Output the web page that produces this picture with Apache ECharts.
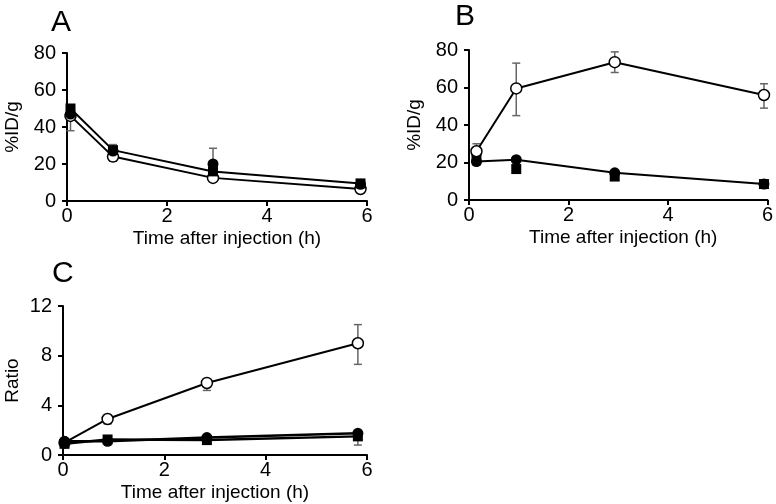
<!DOCTYPE html>
<html>
<head>
<meta charset="utf-8">
<script src="https://cdn.jsdelivr.net/npm/echarts@6/dist/echarts.min.js"></script>
<style>
  html, body { margin: 0; padding: 0; background: #fff; }
  #chart { width: 776px; height: 504px; }
</style>
</head>
<body>
<div id="chart"></div>
<script>
// Panel A: %ID/g over time
const timeA = [0.07, 0.92, 2.92, 5.87];
const openA = [46, 24, 12.5, 6.5];
const filledCircleA = [47, 27, 20, 9];
const filledSquareA = [50, 27.5, 16, 9.5];
const errA = [
  [0.07, 38, 52], [0.92, 21.5, 24.5], [0.92, 26, 30.5],
  [2.92, 20, 28.5], [5.87, 5, 8.5],
];

// Panel B: %ID/g over time
const timeB = [0.15, 0.95, 2.93, 5.93];
const openB = [26, 59.5, 73.5, 56];
const filledCircleB = [20.5, 21.5, 14.5, 8.5];
const filledSquareB = [22.5, 16.5, 12.5, 8.5];
const errB = [
  [0.15, 22, 30], [0.15, 18.5, 23], [0.95, 45, 73],
  [2.93, 68, 79], [2.93, 12, 15.5], [5.93, 49, 62],
];

// Panel C: ratio over time
const timeC = [0.03, 0.88, 2.84, 5.82];
const openC = [1.0, 2.9, 5.8, 9.0];
const filledCircleC = [1.1, 1.1, 1.4, 1.75];
const filledSquareC = [0.9, 1.25, 1.2, 1.5];
const errC = [
  [0.88, 2.5, 2.9], [2.84, 5.2, 6.1], [5.82, 7.3, 10.5],
  [0.88, 0.9, 1.3], [2.84, 1.0, 1.5], [5.82, 0.8, 1.8],
];

const FONT = "Liberation Sans, Arial, sans-serif";
const chart = echarts.init(document.getElementById("chart"));

function pairs(xs, ys) {
  return xs.map((x, i) => [x, ys[i]]);
}

function axisX(idx, shift) {
  return {
    type: "value", gridIndex: idx, min: 0, max: 6, interval: 2,
    name: "Time after injection (h)", nameLocation: "middle", nameGap: 28,
    nameMoveOverlap: false,
    nameTextStyle: {
      fontFamily: FONT, fontSize: 19, color: "#000",
      padding: [0, 0, 0, shift || 0],
    },
    axisLine: { lineStyle: { color: "#000", width: 2 } },
    axisTick: { length: 5, lineStyle: { color: "#000", width: 2 } },
    axisLabel: { fontFamily: FONT, fontSize: 20, color: "#000", margin: 5 },
    splitLine: { show: false },
  };
}

function axisY(idx, name, max, interval, nameGap) {
  return {
    type: "value", gridIndex: idx, min: 0, max, interval,
    name, nameLocation: "middle", nameGap, nameMoveOverlap: false,
    nameTextStyle: { fontFamily: FONT, fontSize: 19, color: "#000" },
    axisLine: { show: true, lineStyle: { color: "#000", width: 2 } },
    axisTick: { show: true, length: 5, lineStyle: { color: "#000", width: 2 } },
    axisLabel: { fontFamily: FONT, fontSize: 20, color: "#000", margin: 11 },
    splitLine: { show: false },
  };
}

function marks(idx, data, kind, withLine, z, lineWidth) {
  const open = kind === "open";
  return {
    type: "line", xAxisIndex: idx, yAxisIndex: idx, data,
    symbol: kind === "square" ? "rect" : "circle",
    symbolSize: kind === "square" ? 10 : 11,
    showSymbol: true,
    itemStyle: {
      color: open ? "#fff" : "#000",
      borderColor: "#000", borderWidth: open ? 1.5 : 0,
    },
    lineStyle: withLine ? { color: "#000", width: lineWidth || 2 } : { opacity: 0 },
    z,
    animation: false,
  };
}

function errBars(idx, data) {
  return {
    type: "custom", xAxisIndex: idx, yAxisIndex: idx, data, z: 1,
    renderItem(params, api) {
      const x = api.value(0);
      const lo = api.coord([x, api.value(1)]);
      const hi = api.coord([x, api.value(2)]);
      const w = 4;
      const style = { stroke: "#666", lineWidth: 1.5 };
      return {
        type: "group",
        children: [
          { type: "line", shape: { x1: lo[0], y1: lo[1], x2: hi[0], y2: hi[1] }, style },
          { type: "line", shape: { x1: lo[0] - w, y1: lo[1], x2: lo[0] + w, y2: lo[1] }, style },
          { type: "line", shape: { x1: hi[0] - w, y1: hi[1], x2: hi[0] + w, y2: hi[1] }, style },
        ],
      };
    },
    animation: false,
  };
}

const titleStyle = { fontFamily: FONT, fontSize: 30, fontWeight: "normal", color: "#000" };

chart.setOption({
  animation: false,
  title: [
    { text: "A", left: 51, top: 8, textStyle: titleStyle, padding: 0 },
    { text: "B", left: 455, top: 2, textStyle: titleStyle, padding: 0 },
    { text: "C", left: 52, top: 259, textStyle: titleStyle, padding: 0 },
  ],
  grid: [
    { left: 67, top: 53, width: 300, height: 148 },
    { left: 469, top: 50, width: 303, height: 150 },
    { left: 63, top: 306, width: 304, height: 149 },
  ],
  xAxis: [axisX(0, 20), axisX(1, 10), axisX(2)],
  yAxis: [
    axisY(0, "%ID/g", 80, 20, 45),
    axisY(1, "%ID/g", 80, 20, 45),
    axisY(2, "Ratio", 12, 4, 41),
  ],
  series: [
    errBars(0, errA),
    marks(0, pairs(timeA, openA), "open", true, 2),
    marks(0, pairs(timeA, filledCircleA), "circle", false, 3),
    marks(0, pairs(timeA, filledSquareA), "square", true, 4),

    errBars(1, errB),
    marks(1, pairs(timeB, openB), "open", true, 4),
    marks(1, pairs(timeB, filledCircleB), "circle", true, 3),
    marks(1, pairs(timeB, filledSquareB), "square", false, 3),

    errBars(2, errC),
    marks(2, pairs(timeC, openC), "open", true, 2),
    marks(2, pairs(timeC, filledCircleC), "circle", true, 3, 2.5),
    marks(2, pairs(timeC, filledSquareC), "square", true, 3, 2.5),
  ],
});
</script>
</body>
</html>
